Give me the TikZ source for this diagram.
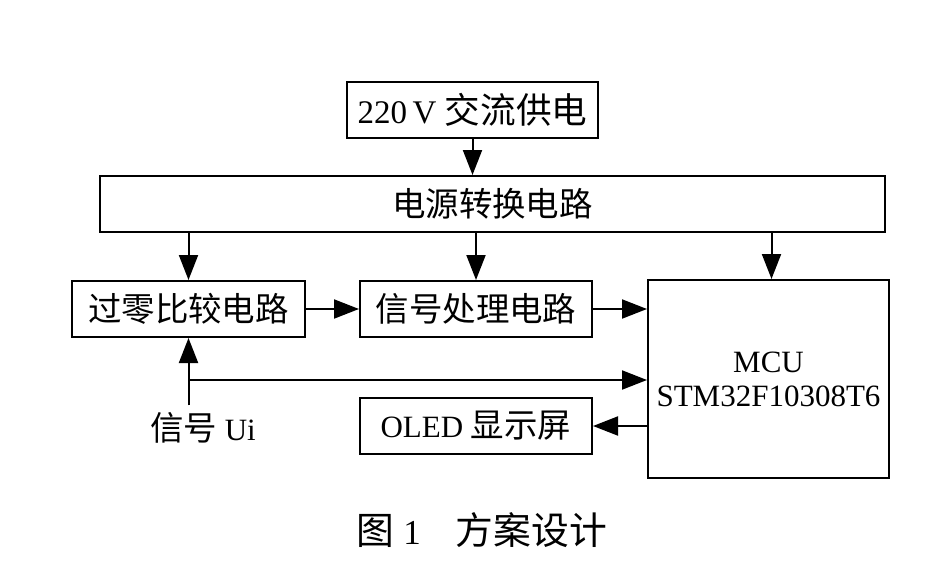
\documentclass[tikz,border=0pt]{standalone}
\usepackage{fontspec}
\setmainfont{Liberation Serif}
\newfontfamily\cjk[Scale=1.08]{Noto Sans CJK SC}
\usetikzlibrary{arrows.meta}

\tikzset{
	box/.style={draw, line width=1pt, minimum height=28pt, inner sep=0pt, font=\fontsize{15.5}{18}\selectfont},
	arr/.style={line width=1pt, -{Triangle[length=12.5pt,width=9.5pt]}}
}

\begin{document}
\begin{tikzpicture}[x=0.5pt, y=-0.5pt]
        \useasboundingbox (0,0) rectangle (936,567);

        \node[box, minimum width=125.5pt] (ac) at (472.5,110) {\fontsize{16.5}{18}\selectfont 220\,V {\cjk 交流供电}};
        \node[box, minimum width=392.5pt] (power) at (492.5,204) {\cjk 电源转换电路};
        \node[box, minimum width=116.5pt] (zero) at (188.5,309) {\cjk 过零比较电路};
        \node[box, minimum width=116pt] (sig) at (476,309) {\cjk 信号处理电路};
        \node[box, minimum width=120.5pt, minimum height=99pt, align=center] (mcu) at (768.5,379) {MCU\\[-1pt]STM32F10308T6};
        \node[box, minimum width=116pt] (oled) at (476,426) {OLED {\cjk 显示屏}};
        \node[font=\fontsize{15.5}{18}\selectfont] (ui) at (203,428) {{\cjk 信号} Ui};
        \node[font=\fontsize{17.5}{18}\selectfont] (cap) at (482,530) {{\cjk 图} 1\hspace{1em}{\cjk 方案设计}};

	\draw[arr] (ac.south) -- (ac.south |- power.north);
	\draw[arr] (zero.north |- power.south) -- (zero.north);
	\draw[arr] (sig.north |- power.south) -- (sig.north);
	\draw[arr] ([xshift=1.5pt]mcu.north |- power.south) -- ([xshift=1.5pt]mcu.north);

	\draw[arr] (zero) -- (sig);
	\draw[arr] (sig.east) -- (sig.east -| mcu.west);
	\draw[arr] (mcu.west |- oled.east) -- (oled.east);

	\coordinate (tap) at (189,380);
	\draw[arr] (zero.south |- ui.north) -- (zero.south);
	\draw[arr] (tap) -- (tap -| mcu.west);
    \end{tikzpicture}
\end{document}
